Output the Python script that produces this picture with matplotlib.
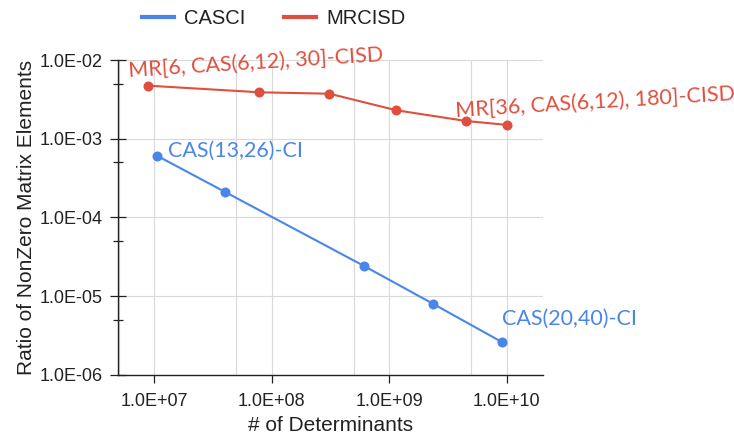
import matplotlib
matplotlib.use("Agg")
import matplotlib.pyplot as plt
from matplotlib.ticker import FixedLocator, FuncFormatter, NullFormatter
from matplotlib.lines import Line2D

# Series data: number of determinants vs. ratio of non-zero Hamiltonian matrix elements
casci_dets = [1.05e7, 4.0e7, 6.05e8, 2.35e9, 9.2e9]
casci_ratio = [6.1e-4, 2.11e-4, 2.44e-5, 8.05e-6, 2.6e-6]

mrcisd_dets = [8.9e6, 7.85e7, 3.1e8, 1.15e9, 4.52e9, 1.0e10]
mrcisd_ratio = [4.72e-3, 3.89e-3, 3.73e-3, 2.3e-3, 1.68e-3, 1.5e-3]

series_names = ["CASCI", "MRCISD"]
x_major_ticks = [1e7, 1e8, 1e9, 1e10]
x_minor_ticks = [5e6, 5e7, 5e8, 5e9]
y_major_ticks = [1e-6, 1e-5, 1e-4, 1e-3, 1e-2]
y_minor_ticks = [5e-6, 5e-5, 5e-4, 5e-3]

BLUE = "#4a86e8"
RED = "#e04f3e"
GRID = "#d9d9d9"
INK = "#222222"

plt.rcParams["font.family"] = ["Liberation Sans", "DejaVu Sans"]

fig = plt.figure(figsize=(7.34, 4.37), dpi=100)
ax = fig.add_axes([0.1612, 0.1419, 0.5782, 0.7208])

ax.set_xscale("log")
ax.set_yscale("log")
ax.set_xlim(4.93e6, 2.03e10)
ax.set_ylim(1e-6, 1e-2)

l1, = ax.plot(casci_dets, casci_ratio, color=BLUE, lw=1.5, marker="o",
              ms=6.2, zorder=3, clip_on=False)
l2, = ax.plot(mrcisd_dets, mrcisd_ratio, color=RED, lw=1.5, marker="o",
              ms=6.2, zorder=3, clip_on=False)

# Axes ticks and grid
ax.xaxis.set_major_locator(FixedLocator(x_major_ticks))
ax.xaxis.set_minor_locator(FixedLocator(x_minor_ticks))
ax.yaxis.set_major_locator(FixedLocator(y_major_ticks))
ax.yaxis.set_minor_locator(FixedLocator(y_minor_ticks))
fmt = FuncFormatter(lambda v, p: f"{v:.1E}")
ax.xaxis.set_major_formatter(fmt)
ax.yaxis.set_major_formatter(fmt)
ax.xaxis.set_minor_formatter(NullFormatter())
ax.yaxis.set_minor_formatter(NullFormatter())

ax.grid(True, which="major", axis="both", color=GRID, lw=0.8, zorder=0)
ax.grid(True, which="minor", axis="x", color=GRID, lw=0.8, zorder=0)
ax.set_axisbelow(True)

ax.tick_params(axis="x", which="major", direction="out", length=6, width=0.9,
               pad=7, labelsize=13, colors=INK)
ax.tick_params(axis="x", which="minor", length=0)
ax.tick_params(axis="y", which="major", direction="inout", length=12,
               width=0.9, pad=5, labelsize=13, colors=INK)
ax.tick_params(axis="y", which="minor", direction="inout", length=7, width=0.9,
               color=INK)

for side in ("top", "right"):
    ax.spines[side].set_visible(False)
for side in ("left", "bottom"):
    ax.spines[side].set_color(INK)
    ax.spines[side].set_linewidth(1.0)

ax.set_xlabel("# of Determinants", fontsize=15, color=INK, labelpad=4)
ax.set_ylabel("Ratio of NonZero Matrix Elements", fontsize=15, color=INK,
              labelpad=3)

# Point labels
lab_font = dict(family=["Lato", "DejaVu Sans"], fontsize=15.5)
ax.annotate("MR[6, CAS(6,12), 30]-CISD", xy=(mrcisd_dets[0], mrcisd_ratio[0]),
            xytext=(-20, 8.7), textcoords="offset pixels", ha="left",
            va="baseline", rotation=3.6, rotation_mode="anchor", color=RED,
            annotation_clip=False, **lab_font)
ax.annotate("MR[36, CAS(6,12), 180]-CISD", xy=(mrcisd_dets[4], mrcisd_ratio[4]),
            xytext=(-10.7, 4.3), textcoords="offset pixels", ha="left",
            va="baseline", rotation=3.5, rotation_mode="anchor", color=RED,
            annotation_clip=False, **lab_font)
ax.annotate("CAS(13,26)-CI", xy=(casci_dets[0], casci_ratio[0]),
            xytext=(11.6, -1), textcoords="offset pixels", ha="left",
            va="baseline", color=BLUE, annotation_clip=False, **lab_font)
ax.annotate("CAS(20,40)-CI", xy=(casci_dets[4], casci_ratio[4]),
            xytext=(0, 17.3), textcoords="offset pixels", ha="left",
            va="baseline", color=BLUE, annotation_clip=False, **lab_font)

# Legend across the top
handles = [Line2D([], [], color=BLUE, lw=3), Line2D([], [], color=RED, lw=3)]
fig.legend(handles, series_names, loc="center", bbox_to_anchor=(0.373, 0.957),
           ncol=2, frameon=False, fontsize=14.5, handlelength=1.6,
           handletextpad=0.5, columnspacing=1.9, labelcolor=INK)

fig.savefig("out.png", dpi=100)
